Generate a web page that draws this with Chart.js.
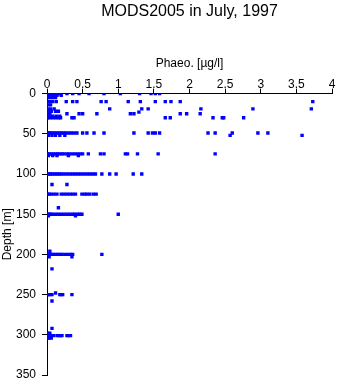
<!DOCTYPE html>
<html>
<head>
<meta charset="utf-8">
<script src="https://cdn.jsdelivr.net/npm/chart.js@4/dist/chart.umd.min.js"></script>
<style>
	html, body { margin: 0; padding: 0; background: #fff; }
	canvas { display: block; }
</style>
</head>
<body>
<canvas id="phaeo-chart" width="338" height="384"></canvas>
<script>
// sampling depths [m] and the phaeopigment readings [ug/l] taken at each one
const depths = [0, 2, 5, 10, 14, 19, 22, 23, 25, 28, 30, 49, 52, 75, 77, 100, 113, 125, 142, 150, 152, 196, 200, 203, 218, 248, 250, 258, 292, 298, 301, 304];
const phaeoAt = [
	[0.01, 0.03, 0.05, 0.07, 0.09, 0.11, 0.13, 0.15, 0.17, 0.19, 0.28, 0.36, 0.45, 0.59, 0.8, 1.03, 1.3, 1.46, 1.52, 1.58],
	[0.02, 0.06, 0.1, 0.14, 0.2],
	[0.01, 0.04, 0.08, 0.12],
	[0.01, 0.04, 0.08, 0.13, 0.27, 0.36, 0.42, 0.76, 0.83, 1.14, 1.31, 1.52, 1.66, 1.74, 1.87, 3.73],
	[0.02, 0.05],
	[0.01, 0.05, 0.1, 0.88, 1.33, 1.42, 2.16, 2.89, 3.71],
	[0.02, 0.06, 0.12, 0.16],
	[1.29],
	[0.01, 0.04, 0.28, 0.45, 0.5, 0.7, 1.17, 1.22, 1.87, 1.96, 2.15],
	[0.03, 0.08, 0.13, 0.18],
	[0.01, 0.04, 0.08, 0.12, 0.16, 0.19, 0.35, 0.38, 1.66, 1.73, 2.33, 2.46, 2.48, 2.76],
	[0.01, 0.03, 0.05, 0.08, 0.11, 0.14, 0.17, 0.2, 0.23, 0.26, 0.3, 0.34, 0.38, 0.42, 0.5, 0.56, 0.66, 0.8, 1.22, 1.42, 1.48, 1.52, 1.58, 2.26, 2.36, 2.6, 2.96, 3.1],
	[0.02, 0.07, 0.12, 0.18, 0.25, 2.57, 3.58],
	[0.01, 0.03, 0.06, 0.09, 0.12, 0.15, 0.18, 0.21, 0.24, 0.28, 0.31, 0.35, 0.39, 0.43, 0.47, 0.5, 0.58, 0.75, 0.8, 1.1, 1.13, 1.27, 1.56, 2.36],
	[0.02, 0.08, 0.14, 0.3, 0.44],
	[0.01, 0.03, 0.05, 0.08, 0.11, 0.14, 0.17, 0.2, 0.24, 0.28, 0.32, 0.36, 0.4, 0.44, 0.48, 0.52, 0.56, 0.6, 0.64, 0.68, 0.77, 0.88, 0.97, 1.21, 1.33],
	[0.07, 0.28],
	[0.01, 0.03, 0.06, 0.1, 0.14, 0.2, 0.24, 0.28, 0.32, 0.36, 0.4, 0.49, 0.53, 0.56, 0.6, 0.65, 0.69],
	[0.16],
	[0.01, 0.03, 0.05, 0.08, 0.12, 0.16, 0.2, 0.24, 0.28, 0.32, 0.36, 0.39, 0.43, 0.46, 0.49, 1.0],
	[0.02, 0.4],
	[0.04],
	[0.01, 0.02, 0.04, 0.06, 0.09, 0.12, 0.15, 0.18, 0.21, 0.25, 0.29, 0.33, 0.36, 0.77],
	[0.03, 0.35],
	[0.07],
	[0.12],
	[0.0, 0.02, 0.04, 0.07, 0.18, 0.2, 0.22, 0.35],
	[0.07],
	[0.07],
	[0.01, 0.04],
	[0.0, 0.02, 0.04, 0.06, 0.09, 0.14, 0.17, 0.19, 0.21, 0.28, 0.3, 0.33],
	[0.01, 0.03, 0.06]
];
const xTicks = [0, 0.5, 1, 1.5, 2, 2.5, 3, 3.5, 4];
const yTicks = [0, 50, 100, 150, 200, 250, 300, 350];

const points = [];
depths.forEach((d, i) => {
	phaeoAt[i].forEach((p) => points.push({ x: p, y: d }));
});

Chart.defaults.font.family = '"Liberation Sans", Arial, sans-serif';
Chart.defaults.font.size = 12;
Chart.defaults.color = '#000';

const font = { family: '"Liberation Sans", Arial, sans-serif', size: 12 };
const canvas = document.getElementById('phaeo-chart').getContext('2d');

const chart = new Chart(canvas, {
	type: 'scatter',
	data: {
		datasets: [
			{
				label: 'Phaeo',
				data: points,
				pointStyle: 'rect',
				radius: 2.4,
				borderWidth: 0,
				backgroundColor: '#0000ff'
			}
		]
	},
	options: {
		responsive: false,
		animation: false,
		layout: {
			padding: { left: 0, right: 6, top: 0, bottom: 9 }
		},
		plugins: {
			legend: { display: false },
			tooltip: { enabled: false },
			title: {
				display: true,
				text: 'MODS2005 in July, 1997',
				fullSize: false,
				color: '#000',
				font: { family: font.family, size: 16, weight: 'normal' },
				padding: { top: 2, bottom: 0 }
			}
		},
		scales: {
			x: {
				type: 'linear',
				position: 'top',
				min: 0,
				max: 4,
				afterBuildTicks: (s) => { s.ticks = xTicks.map((v) => ({ value: v })); },
				ticks: { font, color: '#000', padding: -3, maxRotation: 0, callback: (v) => String(v) },
				grid: { drawOnChartArea: false, drawTicks: true, tickLength: 5, color: '#000' },
				border: { display: true, color: '#000', width: 1 },
				title: {
					display: true,
					text: 'Phaeo. [µg/l]',
					color: '#000',
					font,
					padding: { top: 35, bottom: 0 }
				},
				afterFit: (s) => { s.height = 72.4; }
			},
			y: {
				type: 'linear',
				reverse: true,
				min: 0,
				max: 350,
				afterBuildTicks: (s) => { s.ticks = yTicks.map((v) => ({ value: v })); },
				ticks: { font, color: '#000', padding: 6, callback: (v) => String(v) },
				grid: { drawOnChartArea: false, drawTicks: true, tickLength: 5, color: '#000' },
				border: { display: true, color: '#000', width: 1 },
				title: {
					display: true,
					text: 'Depth [m]',
					color: '#000',
					font,
					padding: { top: 0, bottom: 0 }
				},
				afterFit: (s) => {
					s.width = 47;
					// the end labels may hang past the plot; the layout padding leaves room
					s.paddingTop = 0;
					s.paddingBottom = 0;
				}
			}
		}
	}
});
</script>
</body>
</html>
